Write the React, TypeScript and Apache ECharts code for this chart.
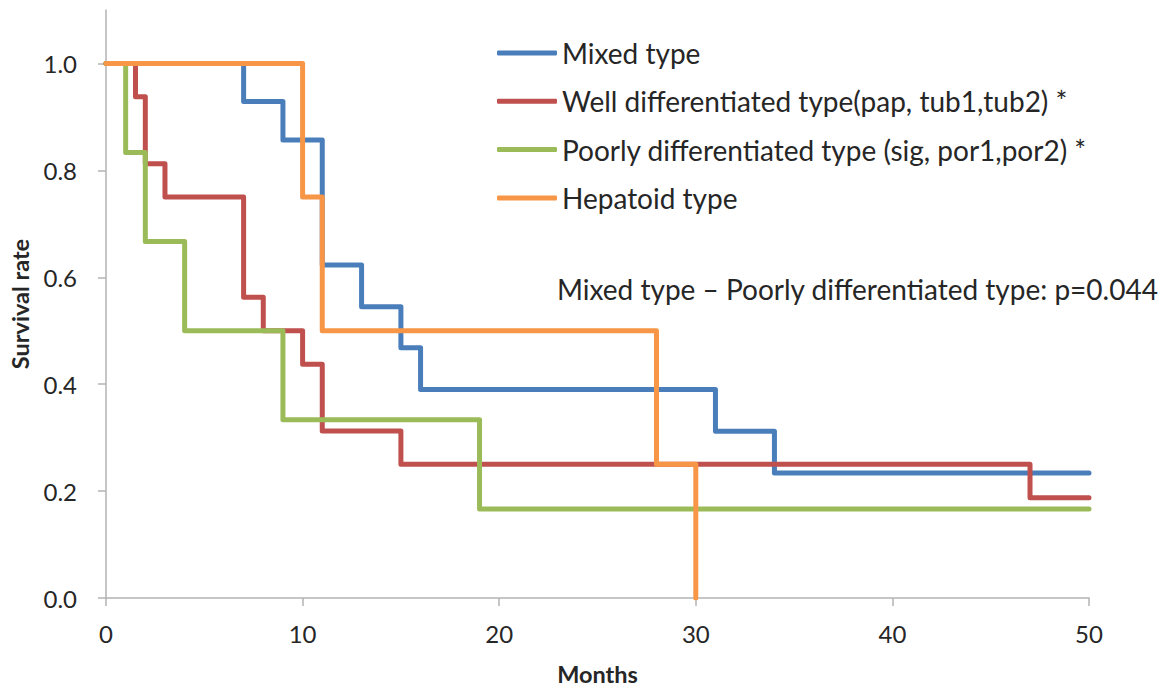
import React, { useEffect, useRef } from "react";
import * as echarts from "echarts";

// Kaplan–Meier survival estimates by histological type (months, survival rate)
const mixedMonths = [0, 7, 9, 11, 13, 15, 16, 31, 34, 50];
const mixedSurvival = [1, 0.929, 0.857, 0.623, 0.545, 0.468, 0.39, 0.312, 0.234, 0.234];

const wellMonths = [0, 1.5, 2, 3, 7, 8, 10, 11, 15, 47, 50];
const wellSurvival = [1, 0.9375, 0.8125, 0.75, 0.5625, 0.5, 0.4375, 0.3125, 0.25, 0.1875, 0.1875];

const poorlyMonths = [0, 1, 2, 4, 9, 19, 50];
const poorlySurvival = [1, 0.8333, 0.6667, 0.5, 0.3333, 0.1667, 0.1667];

const hepatoidMonths = [0, 10, 11, 28, 30];
const hepatoidSurvival = [1, 0.75, 0.5, 0.25, 0];

const seriesNames = [
  "Mixed type",
  "Well differentiated type(pap, tub1,tub2) *",
  "Poorly differentiated type (sig, por1,por2) *",
  "Hepatoid type",
];
const seriesColors = ["#4a7ebb", "#c0504d", "#9bbb59", "#f79646"];

const yTickValues = [0, 0.2, 0.4, 0.6, 0.8, 1.0];
const annotation = "Mixed type \u2013 Poorly differentiated type: p=0.044";

const FONT = "Lato, 'Open Sans', sans-serif";

function zip(xs: number[], ys: number[]) {
  return xs.map((x, i) => [x, ys[i]]);
}

export default function App() {
  const ref = useRef<HTMLDivElement>(null);

  useEffect(() => {
    if (!ref.current) return;
    const chart = echarts.init(ref.current, undefined, { renderer: "svg" });

    const data = [
      zip(mixedMonths, mixedSurvival),
      zip(wellMonths, wellSurvival),
      zip(poorlyMonths, poorlySurvival),
      zip(hepatoidMonths, hepatoidSurvival),
    ];

    chart.setOption({
      animation: false,
      backgroundColor: "#ffffff",
      textStyle: { fontFamily: FONT },
      grid: { left: 104, right: 74, top: 10, bottom: 89, containLabel: false },
      legend: {
        orient: "vertical",
        left: 492,
        top: 33,
        itemWidth: 60,
        itemHeight: 5,
        itemGap: 18.3,
        icon: "roundRect",
        selectedMode: false,
        data: seriesNames,
        textStyle: { fontFamily: FONT, fontSize: 28, color: "#262626", lineHeight: 30 },
      },
      xAxis: {
        type: "value",
        min: 0,
        max: 50,
        interval: 10,
        name: "Months",
        nameLocation: "middle",
        nameGap: 64,
        nameTextStyle: { fontFamily: FONT, fontSize: 23.5, fontWeight: "bold", color: "#262626" },
        axisLine: { show: true, lineStyle: { color: "#b3b3b3", width: 1.5 } },
        axisTick: { show: true, length: 8, lineStyle: { color: "#b3b3b3", width: 1.5 } },
        axisLabel: { fontFamily: FONT, fontSize: 24, color: "#262626", margin: 23 },
        splitLine: { show: false },
      },
      yAxis: {
        type: "value",
        min: 0,
        max: 1.1,
        interval: 0.2,
        name: "Survival rate",
        nameLocation: "middle",
        nameGap: 74,
        nameTextStyle: { fontFamily: FONT, fontSize: 23.5, fontWeight: "bold", color: "#262626" },
        axisLine: { show: true, lineStyle: { color: "#b3b3b3", width: 1.5 } },
        axisTick: {
          show: true,
          length: 8,
          customValues: yTickValues,
          lineStyle: { color: "#b3b3b3", width: 1.5 },
        },
        axisLabel: {
          fontFamily: FONT,
          fontSize: 24,
          color: "#262626",
          margin: 29,
          customValues: yTickValues,
          formatter: (v: number) => v.toFixed(1),
        },
        splitLine: { show: false },
      },
      series: data.map((d, i) => ({
        name: seriesNames[i],
        type: "line",
        step: "end",
        data: d,
        showSymbol: false,
        symbol: "none",
        color: seriesColors[i],
        itemStyle: { color: seriesColors[i] },
        lineStyle: { color: seriesColors[i], width: 5, cap: "round", join: "round" },
      })),
      graphic: [
        {
          type: "text",
          x: 557,
          y: 289,
          style: {
            text: annotation,
            fontFamily: FONT,
            fontSize: 28,
            fill: "#262626",
            verticalAlign: "middle",
          },
        },
      ],
    });

    return () => chart.dispose();
  }, []);

  return <div ref={ref} style={{ width: 1163, height: 691, position: "absolute", left: 0, top: 0 }} />;
}
